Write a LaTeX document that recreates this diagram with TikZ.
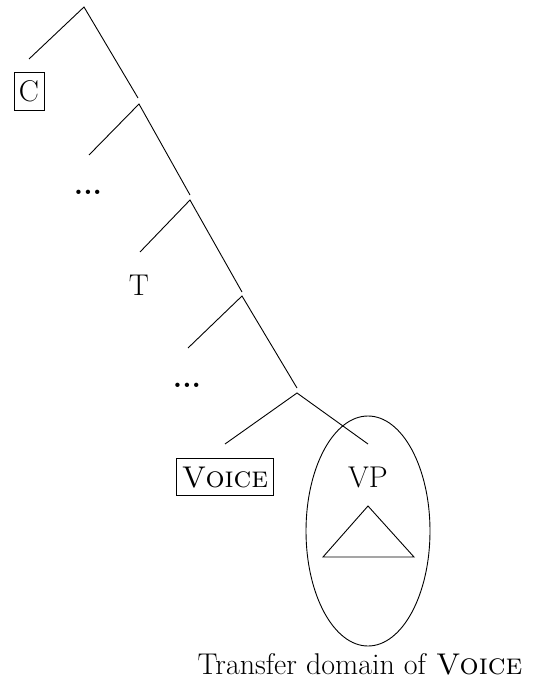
\documentclass[tikz,border=0pt]{standalone}
\usetikzlibrary{shapes.geometric}
\begin{document}
\begin{tikzpicture}[x=1pt,y=-1pt,
  branch/.style={line width=0.9pt},
  lbl/.style={font=\fontsize{30}{36}\selectfont, inner sep=3pt},
  boxed/.style={lbl, draw, line width=0.9pt, inner xsep=5pt, inner ysep=8.5pt, text depth=0pt}]
\useasboundingbox (0,0) rectangle (536,687);

% branching points and ends of the branches
\coordinate (r0) at (84,7);
\coordinate (r0l) at (29,59);
\coordinate (r0r) at (138,98);
\coordinate (r1) at (139,104);
\coordinate (r1l) at (89,155);
\coordinate (r1r) at (190,195);
\coordinate (r2) at (190,200);
\coordinate (r2l) at (140,252);
\coordinate (r2r) at (242,292);
\coordinate (r3) at (242,296);
\coordinate (r3l) at (188,348);
\coordinate (r3r) at (297,388);
\coordinate (r4) at (297,393);
\coordinate (r4l) at (225,444);
\coordinate (r4r) at (368,444);

% labels
\node[boxed] (c) at (29,91) {C};
\node[lbl] (dots1) at (88,192) {\textbf{...}};
\node[lbl] (t) at (139,285) {T};
\node[lbl] (dots2) at (187,385) {\textbf{...}};
\node[boxed] (voice) at (225,477) {\textsc{Voice}};
\node[lbl] (vp) at (368,477) {VP};

% branches
\draw[branch] (r0l) -- (r0) -- (r0r);
\draw[branch] (r1l) -- (r1) -- (r1r);
\draw[branch] (r2l) -- (r2) -- (r2r);
\draw[branch] (r3l) -- (r3) -- (r3r);
\draw[branch] (r4l) -- (r4) -- (r4r);

% subtree triangle under VP
\coordinate (ta) at (368,506);
\coordinate (tb) at (323,557);
\coordinate (tc) at (414,557);
\draw[branch] (ta) -- (tb) -- (tc) -- cycle;

% transfer domain
\node[ellipse, draw, line width=0.9pt, minimum width=124pt, minimum height=230pt, inner sep=0pt] (dom) at (368,531) {};
\node[lbl] (cap) at (360,664) {Transfer domain of \textsc{Voice}};
\end{tikzpicture}
\end{document}
